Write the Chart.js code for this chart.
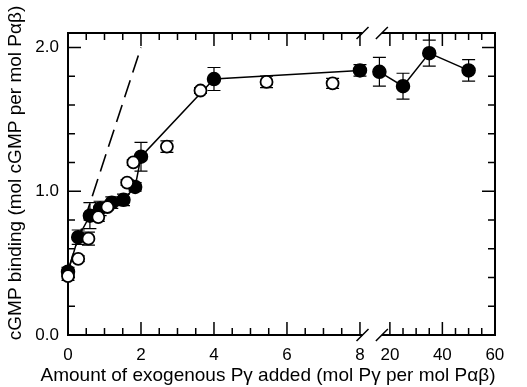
<!DOCTYPE html>
<html>
<head>
<meta charset="utf-8">
<script src="https://cdn.jsdelivr.net/npm/chart.js@4.4.1/dist/chart.umd.min.js"></script>
<style>
  html, body { margin: 0; padding: 0; background: #fff; }
</style>
</head>
<body>
<canvas id="bindingChart" width="527" height="387"></canvas>
<script>
// closed circles (connected)
const filledAmount  = [0, 0.28, 0.6, 0.88, 1.2, 1.52, 1.84, 2.0, 4.0, 8.0, 16, 25, 35, 50];
const filledBinding = [0.44, 0.68, 0.83, 0.88, 0.92, 0.94, 1.03, 1.24, 1.78, 1.84, 1.83, 1.73, 1.96, 1.84];
const filledError   = [0.03, 0.05, 0.09, 0.05, 0.04, 0.04, 0.03, 0.10, 0.08, 0.04, 0.10, 0.09, 0.09, 0.075];
// open circles
const openAmount  = [0, 0.28, 0.56, 0.83, 1.08, 1.62, 1.79, 2.71, 3.63, 5.44, 7.25];
const openBinding = [0.41, 0.53, 0.67, 0.82, 0.89, 1.06, 1.20, 1.31, 1.70, 1.76, 1.75];
const openError   = [0.03, 0.02, 0.045, 0.03, 0.02, 0.02, 0.02, 0.04, 0.02, 0.04, 0.035];
// dashed stoichiometric line
const theoryAmount  = [0, 2];
const theoryBinding = [0.45, 2.0];

const xTickValues = [0, 2, 4, 6, 8, 20, 40, 60];
const yTickValues = [0, 1, 2];

// x axis is broken after 8, the 20..60 part is squeezed in on the right
function toAxis(x) {
  return x <= 8 ? x : 8.82 + (x - 20) * 0.0719;
}

function points(xs, ys) {
  return xs.map((x, i) => ({ x: toAxis(x), y: ys[i] }));
}

Chart.defaults.font.family = '"Liberation Sans", Arial, sans-serif';
Chart.defaults.font.size = 17;
Chart.defaults.color = '#000';

const framePlugin = {
  id: 'frame',
  beforeDatasetsDraw(chart) {
    const { ctx, chartArea: a, scales: { x, y } } = chart;
    ctx.save();
    ctx.strokeStyle = '#000';

    // error bars (under the markers)
    ctx.lineWidth = 1.2;
    chart.data.datasets.forEach(ds => {
      if (!ds.errors) return;
      ds.data.forEach((p, i) => {
        const px = x.getPixelForValue(p.x);
        const top = y.getPixelForValue(p.y + ds.errors[i]);
        const bot = y.getPixelForValue(p.y - ds.errors[i]);
        ctx.beginPath();
        ctx.moveTo(px, top); ctx.lineTo(px, bot);
        ctx.moveTo(px - 6.5, top); ctx.lineTo(px + 6.5, top);
        ctx.moveTo(px - 6.5, bot); ctx.lineTo(px + 6.5, bot);
        ctx.stroke();
      });
    });

    // frame with break
    const bl = x.getPixelForValue(8.07);
    const br = x.getPixelForValue(8.6);
    ctx.lineWidth = 2;
    ctx.beginPath();
    ctx.moveTo(a.left, a.top); ctx.lineTo(a.left, a.bottom);
    ctx.moveTo(a.right, a.top); ctx.lineTo(a.right, a.bottom);
    [a.top, a.bottom].forEach(py => {
      ctx.moveTo(a.left - 1, py); ctx.lineTo(bl, py);
      ctx.moveTo(br, py); ctx.lineTo(a.right + 1, py);
    });
    ctx.stroke();
    ctx.lineWidth = 1.5;
    ctx.beginPath();
    [a.top, a.bottom].forEach(py => {
      [bl, br].forEach(px => {
        ctx.moveTo(px - 6, py + 6); ctx.lineTo(px + 6, py - 6);
      });
    });
    ctx.stroke();

    // inward ticks
    ctx.lineWidth = 1.5;
    ctx.beginPath();
    for (let k = 0; k <= 10; k++) {
      const py = y.getPixelForValue(k * 0.2);
      const len = k % 5 === 0 ? 13 : 7;
      ctx.moveTo(a.left, py); ctx.lineTo(a.left + len, py);
      ctx.moveTo(a.right, py); ctx.lineTo(a.right - len, py);
    }
    const xt = [];
    for (let k = 0; k <= 16; k++) xt.push([k * 0.5, k % 4 === 0]);
    for (let k = 4; k <= 12; k++) xt.push([k * 5, k % 4 === 0]);
    xt.forEach(([v, major]) => {
      const px = x.getPixelForValue(toAxis(v));
      const len = major ? 13 : 7;
      ctx.moveTo(px, a.bottom); ctx.lineTo(px, a.bottom - len);
      ctx.moveTo(px, a.top); ctx.lineTo(px, a.top + len);
    });
    ctx.stroke();

    // axis titles
    ctx.fillStyle = '#000';
    ctx.font = '19px "Liberation Sans", Arial, sans-serif';
    ctx.textAlign = 'center';
    ctx.textBaseline = 'middle';
    ctx.fillText('Amount of exogenous P\u03b3 added (mol P\u03b3 per mol P\u03b1\u03b2)', 268, 376);
    ctx.translate(16, 173);
    ctx.rotate(-Math.PI / 2);
    ctx.fillText('cGMP binding (mol cGMP per mol P\u03b1\u03b2)', 0, 0);
    ctx.restore();
  }
};

new Chart(document.getElementById('bindingChart'), {
  type: 'scatter',
  data: {
    datasets: [
      {
        label: 'open',
        data: points(openAmount, openBinding),
        errors: openError,
        showLine: false,
        pointRadius: 6,
        pointBackgroundColor: '#fff',
        pointBorderColor: '#000',
        pointBorderWidth: 1.8,
        clip: false,
        order: 0
      },
      {
        label: 'closed',
        data: points(filledAmount, filledBinding),
        errors: filledError,
        showLine: true,
        borderColor: '#000',
        borderWidth: 1.5,
        segment: {
          borderColor: c => (c.p0.parsed.x <= 8 && c.p1.parsed.x > 8) ? 'transparent' : '#000'
        },
        pointRadius: 6.5,
        pointBackgroundColor: '#000',
        pointBorderColor: '#000',
        clip: false,
        order: 1
      },
      {
        label: 'theory',
        data: points(theoryAmount, theoryBinding),
        showLine: true,
        borderColor: '#000',
        borderWidth: 1.6,
        borderDash: [18, 8],
        pointRadius: 0,
        order: 2
      }
    ]
  },
  options: {
    responsive: false,
    animation: false,
    layout: { padding: { top: 33, right: 32, left: 0, bottom: 0 } },
    plugins: { legend: { display: false }, tooltip: { enabled: false } },
    scales: {
      x: {
        type: 'linear',
        min: 0,
        max: 11.7,
        grid: { display: false, drawTicks: false },
        border: { display: false },
        afterBuildTicks: s => { s.ticks = xTickValues.map(v => ({ value: toAxis(v) })); },
        afterFit: s => { s.height = 52; },
        ticks: {
          autoSkip: false,
          maxRotation: 0,
          padding: 10,
          callback: (v, i) => String(xTickValues[i])
        }
      },
      y: {
        min: 0,
        max: 2.1,
        grid: { display: false, drawTicks: false },
        border: { display: false },
        afterBuildTicks: s => { s.ticks = yTickValues.map(v => ({ value: v })); },
        afterFit: s => { s.width = 68; },
        ticks: {
          padding: 9,
          callback: v => v.toFixed(1)
        }
      }
    }
  },
  plugins: [framePlugin]
});
</script>
</body>
</html>
